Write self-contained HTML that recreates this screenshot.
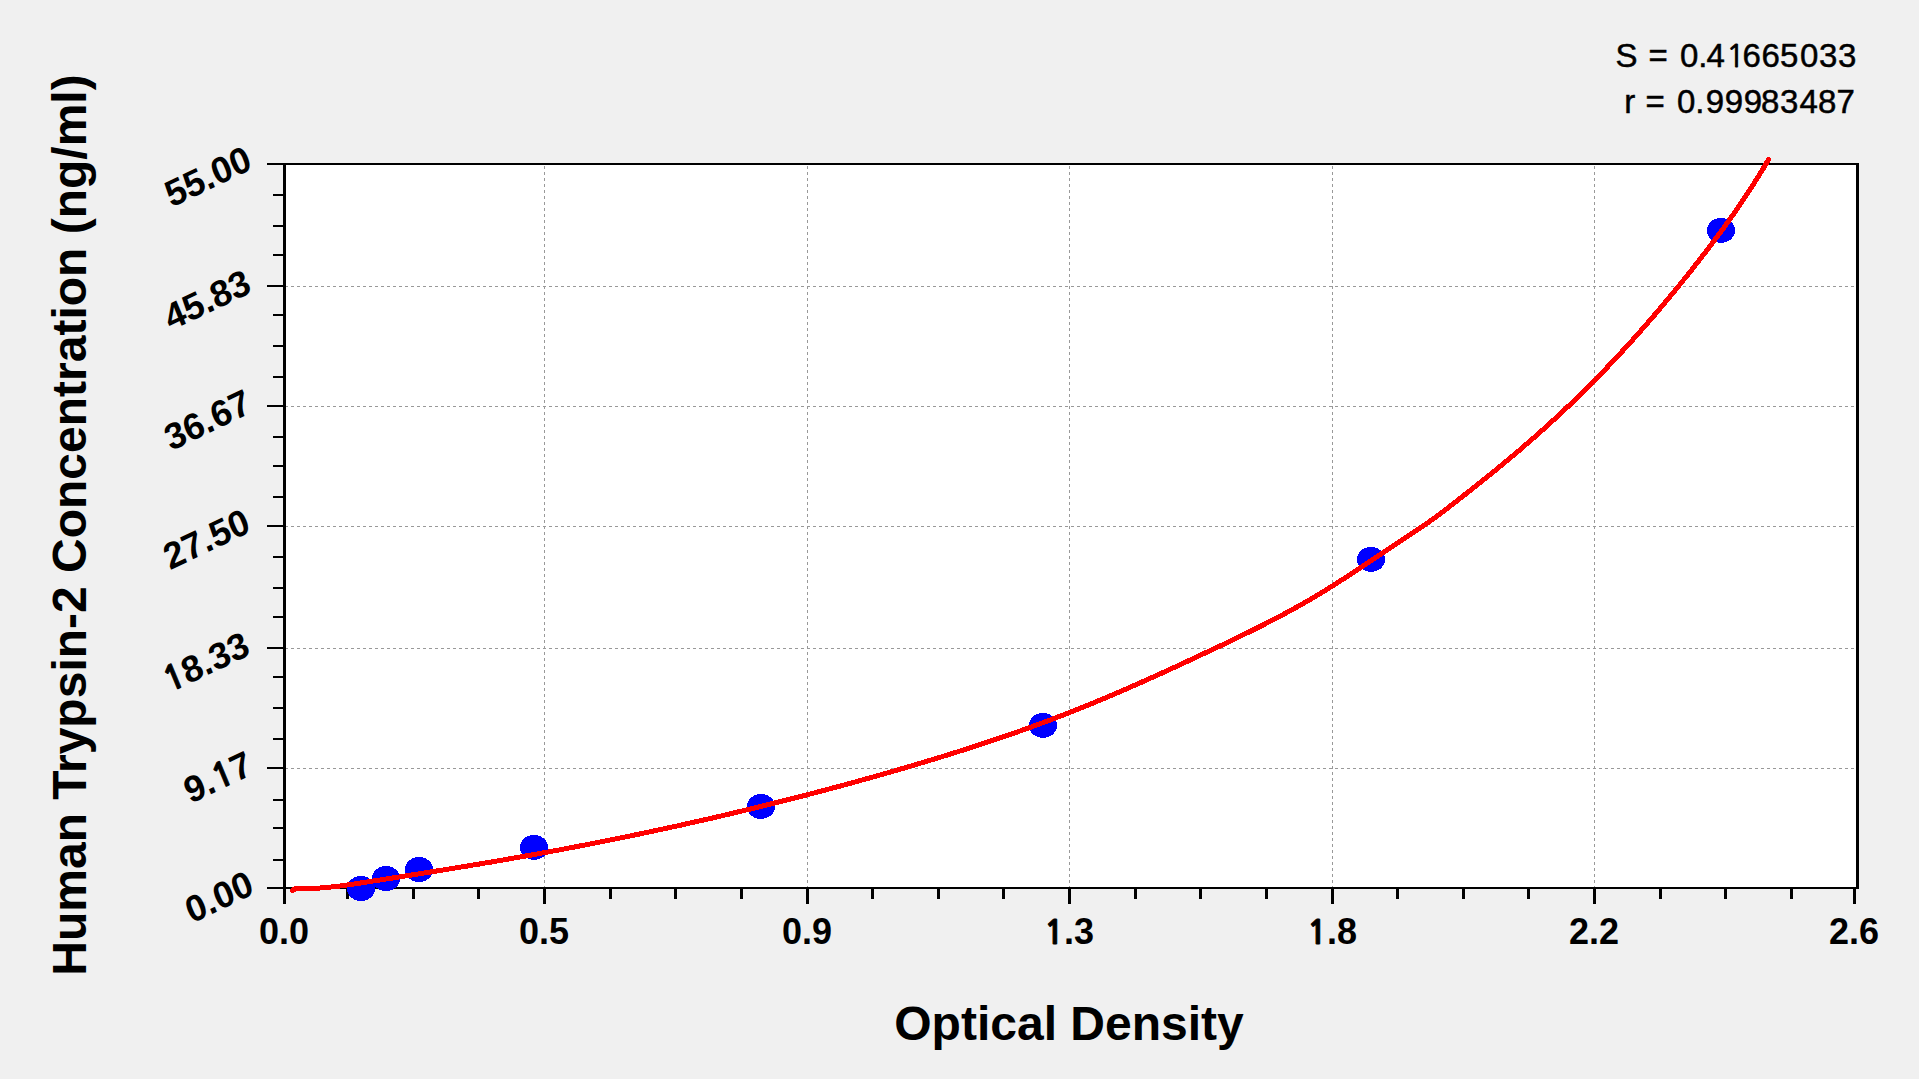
<!DOCTYPE html>
<html><head><meta charset="utf-8"><style>
html,body{margin:0;padding:0;background:#f0f0f0;}
svg{display:block;}
text{font-family:"Liberation Sans",Arial,sans-serif;fill:#000;}
.b32{font-weight:bold;font-size:36px;}
.r32{font-size:33px;stroke:#000;stroke-width:0.5px;}
.yl{font-weight:bold;font-size:36.5px;}
.b48{font-weight:bold;font-size:48px;}
</style></head><body>
<svg width="1919" height="1079" viewBox="0 0 1919 1079">
<rect x="0" y="0" width="1919" height="1079" fill="#f0f0f0"/>
<rect x="285" y="164" width="1571" height="723" fill="#fff"/>
<path d="M544.5,166V887 M807.5,166V887 M1069.5,166V887 M1332.5,166V887 M1594.5,166V887 M285,768.5H1856 M285,648.5H1856 M285,526.5H1856 M285,406.5H1856 M285,286.5H1856" stroke="#999999" stroke-width="1" stroke-dasharray="3 3" fill="none"/>
<rect x="283" y="163" width="1576" height="2" fill="#000"/>
<rect x="283" y="887" width="1576" height="2" fill="#000"/>
<rect x="283" y="163" width="3" height="741" fill="#000"/>
<rect x="1856" y="163" width="3" height="726" fill="#000"/>
<rect x="283" y="887" width="3" height="17" fill="#000"/>
<rect x="543" y="887" width="3" height="17" fill="#000"/>
<rect x="806" y="887" width="3" height="17" fill="#000"/>
<rect x="1068" y="887" width="3" height="17" fill="#000"/>
<rect x="1331" y="887" width="3" height="17" fill="#000"/>
<rect x="1593" y="887" width="3" height="17" fill="#000"/>
<rect x="1853" y="887" width="3" height="17" fill="#000"/>
<rect x="346" y="887" width="3" height="12" fill="#000"/>
<rect x="412" y="887" width="3" height="12" fill="#000"/>
<rect x="477" y="887" width="3" height="12" fill="#000"/>
<rect x="609" y="887" width="3" height="12" fill="#000"/>
<rect x="674" y="887" width="3" height="12" fill="#000"/>
<rect x="740" y="887" width="3" height="12" fill="#000"/>
<rect x="871" y="887" width="3" height="12" fill="#000"/>
<rect x="937" y="887" width="3" height="12" fill="#000"/>
<rect x="1002" y="887" width="3" height="12" fill="#000"/>
<rect x="1134" y="887" width="3" height="12" fill="#000"/>
<rect x="1199" y="887" width="3" height="12" fill="#000"/>
<rect x="1265" y="887" width="3" height="12" fill="#000"/>
<rect x="1396" y="887" width="3" height="12" fill="#000"/>
<rect x="1462" y="887" width="3" height="12" fill="#000"/>
<rect x="1527" y="887" width="3" height="12" fill="#000"/>
<rect x="1659" y="887" width="3" height="12" fill="#000"/>
<rect x="1724" y="887" width="3" height="12" fill="#000"/>
<rect x="1790" y="887" width="3" height="12" fill="#000"/>
<rect x="267" y="887.0" width="17" height="2" fill="#000"/>
<rect x="267" y="767.0" width="17" height="2" fill="#000"/>
<rect x="267" y="647.0" width="17" height="2" fill="#000"/>
<rect x="267" y="525.0" width="17" height="2" fill="#000"/>
<rect x="267" y="405.0" width="17" height="2" fill="#000"/>
<rect x="267" y="285.0" width="17" height="2" fill="#000"/>
<rect x="267" y="163.0" width="17" height="2" fill="#000"/>
<rect x="273" y="194" width="11" height="2" fill="#000"/>
<rect x="273" y="225" width="11" height="2" fill="#000"/>
<rect x="273" y="254" width="11" height="2" fill="#000"/>
<rect x="273" y="314" width="11" height="2" fill="#000"/>
<rect x="273" y="345" width="11" height="2" fill="#000"/>
<rect x="273" y="376" width="11" height="2" fill="#000"/>
<rect x="273" y="436" width="11" height="2" fill="#000"/>
<rect x="273" y="465" width="11" height="2" fill="#000"/>
<rect x="273" y="496" width="11" height="2" fill="#000"/>
<rect x="273" y="556" width="11" height="2" fill="#000"/>
<rect x="273" y="587" width="11" height="2" fill="#000"/>
<rect x="273" y="616" width="11" height="2" fill="#000"/>
<rect x="273" y="676" width="11" height="2" fill="#000"/>
<rect x="273" y="707" width="11" height="2" fill="#000"/>
<rect x="273" y="738" width="11" height="2" fill="#000"/>
<rect x="273" y="799" width="11" height="2" fill="#000"/>
<rect x="273" y="827" width="11" height="2" fill="#000"/>
<rect x="273" y="859" width="11" height="2" fill="#000"/>
<ellipse cx="361" cy="888.5" rx="14" ry="12.5" fill="#0000ff" shape-rendering="crispEdges"/>
<ellipse cx="386" cy="878.5" rx="14" ry="12.5" fill="#0000ff" shape-rendering="crispEdges"/>
<ellipse cx="419" cy="869.5" rx="14" ry="12.5" fill="#0000ff" shape-rendering="crispEdges"/>
<ellipse cx="534" cy="847.4" rx="14" ry="12.5" fill="#0000ff" shape-rendering="crispEdges"/>
<ellipse cx="761" cy="806.5" rx="14" ry="12.5" fill="#0000ff" shape-rendering="crispEdges"/>
<ellipse cx="1043" cy="725.4" rx="14" ry="12.5" fill="#0000ff" shape-rendering="crispEdges"/>
<ellipse cx="1371" cy="559.4" rx="14" ry="12.5" fill="#0000ff" shape-rendering="crispEdges"/>
<ellipse cx="1721" cy="230.4" rx="14" ry="12.5" fill="#0000ff" shape-rendering="crispEdges"/>
<polyline points="292.5,890.3 296.0,888.4 300.0,888.5 304.0,888.6 308.0,888.5 312.0,888.4 316.0,888.2 320.0,888.0 324.0,887.7 328.0,887.3 332.0,886.9 336.0,886.5 340.0,886.0 344.0,885.4 348.0,884.9 352.0,884.3 356.0,883.7 360.0,883.1 364.0,882.5 368.0,881.9 372.0,881.2 376.0,880.6 380.0,880.0 384.0,879.4 388.0,878.7 392.0,878.1 396.0,877.5 400.0,876.8 404.0,876.2 408.0,875.6 412.0,874.9 416.0,874.3 420.0,873.7 424.0,873.0 428.0,872.4 432.0,871.8 436.0,871.1 440.0,870.5 444.0,869.8 448.0,869.2 452.0,868.5 456.0,867.9 460.0,867.2 464.0,866.6 468.0,865.9 472.0,865.2 476.0,864.6 480.0,863.9 484.0,863.2 488.0,862.6 492.0,861.9 496.0,861.2 500.0,860.5 504.0,859.8 508.0,859.1 512.0,858.4 516.0,857.7 520.0,857.0 524.0,856.3 528.0,855.6 532.0,854.9 536.0,854.2 540.0,853.4 544.0,852.7 548.0,852.0 552.0,851.2 556.0,850.5 560.0,849.8 564.0,849.0 568.0,848.2 572.0,847.5 576.0,846.7 580.0,845.9 584.0,845.2 588.0,844.4 592.0,843.6 596.0,842.8 600.0,842.0 604.0,841.2 608.0,840.4 612.0,839.6 616.0,838.8 620.0,838.0 624.0,837.2 628.0,836.4 632.0,835.6 636.0,834.7 640.0,833.9 644.0,833.0 648.0,832.2 652.0,831.3 656.0,830.5 660.0,829.6 664.0,828.8 668.0,827.9 672.0,827.0 676.0,826.2 680.0,825.3 684.0,824.4 688.0,823.5 692.0,822.6 696.0,821.7 700.0,820.8 704.0,819.9 708.0,819.0 712.0,818.1 716.0,817.1 720.0,816.2 724.0,815.3 728.0,814.3 732.0,813.4 736.0,812.4 740.0,811.5 744.0,810.5 748.0,809.6 752.0,808.6 756.0,807.6 760.0,806.7 764.0,805.7 768.0,804.7 772.0,803.7 776.0,802.7 780.0,801.7 784.0,800.7 788.0,799.7 792.0,798.7 796.0,797.6 800.0,796.6 804.0,795.6 808.0,794.6 812.0,793.5 816.0,792.5 820.0,791.4 824.0,790.4 828.0,789.3 832.0,788.2 836.0,787.2 840.0,786.1 844.0,785.0 848.0,783.9 852.0,782.8 856.0,781.7 860.0,780.6 864.0,779.5 868.0,778.4 872.0,777.3 876.0,776.1 880.0,775.0 884.0,773.9 888.0,772.7 892.0,771.6 896.0,770.4 900.0,769.2 904.0,768.1 908.0,766.9 912.0,765.7 916.0,764.5 920.0,763.3 924.0,762.1 928.0,760.9 932.0,759.7 936.0,758.5 940.0,757.3 944.0,756.0 948.0,754.8 952.0,753.6 956.0,752.3 960.0,751.0 964.0,749.8 968.0,748.5 972.0,747.2 976.0,745.9 980.0,744.6 984.0,743.3 988.0,741.9 992.0,740.6 996.0,739.3 1000.0,737.9 1004.0,736.5 1008.0,735.2 1012.0,733.8 1016.0,732.4 1020.0,731.0 1024.0,729.5 1028.0,728.1 1032.0,726.7 1036.0,725.2 1040.0,723.7 1044.0,722.3 1048.0,720.8 1052.0,719.3 1056.0,717.8 1060.0,716.2 1064.0,714.7 1068.0,713.1 1072.0,711.5 1076.0,710.0 1080.0,708.4 1084.0,706.8 1088.0,705.1 1092.0,703.5 1096.0,701.8 1100.0,700.2 1104.0,698.5 1108.0,696.8 1112.0,695.1 1116.0,693.4 1120.0,691.7 1124.0,689.9 1128.0,688.2 1132.0,686.4 1136.0,684.7 1140.0,682.9 1144.0,681.1 1148.0,679.3 1152.0,677.5 1156.0,675.7 1160.0,673.9 1164.0,672.1 1168.0,670.2 1172.0,668.4 1176.0,666.6 1180.0,664.7 1184.0,662.9 1188.0,661.0 1192.0,659.1 1196.0,657.3 1200.0,655.4 1204.0,653.5 1208.0,651.6 1212.0,649.7 1216.0,647.9 1220.0,646.0 1224.0,644.1 1228.0,642.2 1232.0,640.2 1236.0,638.3 1240.0,636.4 1244.0,634.4 1248.0,632.5 1252.0,630.5 1256.0,628.5 1260.0,626.5 1264.0,624.5 1268.0,622.4 1272.0,620.4 1276.0,618.3 1280.0,616.2 1284.0,614.0 1288.0,611.9 1292.0,609.7 1296.0,607.5 1300.0,605.2 1304.0,603.0 1308.0,600.7 1312.0,598.4 1316.0,596.0 1320.0,593.6 1324.0,591.2 1328.0,588.7 1332.0,586.2 1336.0,583.7 1340.0,581.1 1344.0,578.6 1348.0,576.0 1352.0,573.3 1356.0,570.7 1360.0,568.1 1364.0,565.4 1368.0,562.7 1372.0,560.1 1376.0,557.4 1380.0,554.7 1384.0,552.0 1388.0,549.3 1392.0,546.7 1396.0,544.0 1400.0,541.3 1404.0,538.7 1408.0,536.1 1412.0,533.4 1416.0,530.8 1420.0,528.1 1424.0,525.4 1428.0,522.6 1432.0,519.8 1436.0,516.8 1440.0,513.8 1444.0,510.8 1448.0,507.8 1452.0,504.7 1456.0,501.6 1460.0,498.4 1464.0,495.3 1468.0,492.2 1472.0,489.0 1476.0,485.8 1480.0,482.6 1484.0,479.4 1488.0,476.2 1492.0,473.0 1496.0,469.7 1500.0,466.4 1504.0,463.1 1508.0,459.8 1512.0,456.4 1516.0,453.1 1520.0,449.7 1524.0,446.2 1528.0,442.8 1532.0,439.3 1536.0,435.8 1540.0,432.2 1544.0,428.7 1548.0,425.1 1552.0,421.4 1556.0,417.8 1560.0,414.0 1564.0,410.3 1568.0,406.5 1572.0,402.7 1576.0,398.8 1580.0,394.9 1584.0,391.0 1588.0,387.0 1592.0,383.0 1596.0,379.0 1600.0,374.9 1604.0,370.7 1608.0,366.5 1612.0,362.3 1616.0,358.1 1620.0,353.8 1624.0,349.4 1628.0,345.1 1632.0,340.6 1636.0,336.2 1640.0,331.7 1644.0,327.1 1648.0,322.6 1652.0,317.9 1656.0,313.3 1660.0,308.5 1664.0,303.8 1668.0,299.0 1672.0,294.2 1676.0,289.3 1680.0,284.4 1684.0,279.4 1688.0,274.4 1692.0,269.4 1696.0,264.3 1700.0,259.2 1704.0,254.1 1708.0,248.9 1712.0,243.6 1716.0,238.3 1720.0,232.9 1724.0,227.4 1728.0,221.9 1732.0,216.2 1736.0,210.5 1740.0,204.7 1744.0,198.7 1748.0,192.7 1752.0,186.5 1756.0,180.2 1760.0,173.8 1764.0,167.2 1768.0,160.5 1768.5,159.7" fill="none" stroke="#ff0000" stroke-width="5" stroke-linejoin="round" stroke-linecap="round" shape-rendering="crispEdges"/>
<text x="284" y="944" class="b32" text-anchor="middle">0.0</text>
<text x="544" y="944" class="b32" text-anchor="middle">0.5</text>
<text x="807" y="944" class="b32" text-anchor="middle">0.9</text>
<text x="1069" y="944" class="b32" text-anchor="middle"><tspan font-family="NanumGothic, Liberation Sans, sans-serif" font-size="0.927em" letter-spacing="-0.22px" stroke="#000" stroke-width="1.0">1</tspan>.3</text>
<text x="1332" y="944" class="b32" text-anchor="middle"><tspan font-family="NanumGothic, Liberation Sans, sans-serif" font-size="0.927em" letter-spacing="-0.22px" stroke="#000" stroke-width="1.0">1</tspan>.8</text>
<text x="1594" y="944" class="b32" text-anchor="middle">2.2</text>
<text x="1854" y="944" class="b32" text-anchor="middle">2.6</text>
<text x="0" y="0" class="yl" text-anchor="end" transform="translate(252.1,884.2) rotate(-25.5) skewX(-3.0)" dominant-baseline="middle">0.00</text>
<text x="0" y="0" class="yl" text-anchor="end" transform="translate(250.9,764.5) rotate(-25.5) skewX(-3.0)" dominant-baseline="middle">9.<tspan font-family="NanumGothic, Liberation Sans, sans-serif" font-size="0.927em" letter-spacing="-0.22px" stroke="#000" stroke-width="1.0">1</tspan>7</text>
<text x="0" y="0" class="yl" text-anchor="end" transform="translate(248.2,645.0) rotate(-25.5) skewX(-3.0)" dominant-baseline="middle"><tspan font-family="NanumGothic, Liberation Sans, sans-serif" font-size="0.927em" letter-spacing="-0.22px" stroke="#000" stroke-width="1.0">1</tspan>8.33</text>
<text x="0" y="0" class="yl" text-anchor="end" transform="translate(248.7,522.1) rotate(-25.5) skewX(-3.0)" dominant-baseline="middle">27.50</text>
<text x="0" y="0" class="yl" text-anchor="end" transform="translate(249.7,402.9) rotate(-25.5) skewX(-3.0)" dominant-baseline="middle">36.67</text>
<text x="0" y="0" class="yl" text-anchor="end" transform="translate(249.5,282.8) rotate(-25.5) skewX(-3.0)" dominant-baseline="middle">45.83</text>
<text x="0" y="0" class="yl" text-anchor="end" transform="translate(250.2,159.4) rotate(-25.5) skewX(-3.0)" dominant-baseline="middle">55.00</text>
<text y="67" class="r32"><tspan x="1615.62">S </tspan><tspan x="1648.62">= </tspan><tspan x="1680.11">0</tspan><tspan x="1698.28">.</tspan><tspan x="1706.51">4</tspan><tspan x="1726.15" font-family="NanumGothic, Liberation Sans, sans-serif" font-size="0.927em" stroke-width="0.9">1</tspan><tspan x="1742.53">6</tspan><tspan x="1761.53">6</tspan><tspan x="1780.04">5</tspan><tspan x="1800.11">0</tspan><tspan x="1819.07">3</tspan><tspan x="1838.07">3</tspan></text>
<text y="113" class="r32"><tspan x="1624.15">r </tspan><tspan x="1645.62">= </tspan><tspan x="1677.11">0</tspan><tspan x="1695.28">.</tspan><tspan x="1705.64">9</tspan><tspan x="1724.64">9</tspan><tspan x="1743.64">9</tspan><tspan x="1761.04">8</tspan><tspan x="1780.07">3</tspan><tspan x="1799.51">4</tspan><tspan x="1818.04">8</tspan><tspan x="1836.56">7</tspan></text>
<text x="1069" y="1040" class="b48" text-anchor="middle">Optical Density</text>
<text x="0" y="0" class="b48" text-anchor="middle" transform="translate(86,525) rotate(-90)">Human Trypsin-2 Concentration (ng/ml)</text>
</svg>
</body></html>
